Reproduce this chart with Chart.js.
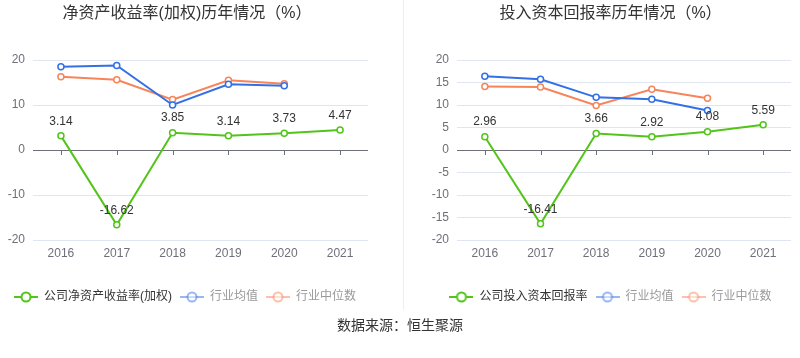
<!DOCTYPE html>
<html>
<head>
<meta charset="utf-8">
<script src="https://cdn.jsdelivr.net/npm/chart.js@4"></script>
<style>
html,body{margin:0;padding:0;background:#fff;}
body{width:800px;height:358px;position:relative;overflow:hidden;font-family:"Liberation Sans","Noto Sans CJK SC",sans-serif;}
#c1{position:absolute;left:0;top:0;}
#c2{position:absolute;left:400px;top:0;}
#divider{position:absolute;left:403px;top:0;width:1px;height:310px;background:#eeeeee;}
#source{position:absolute;left:0;width:800px;top:316px;text-align:center;font-size:14px;color:#333;line-height:18px;}
</style>
</head>
<body>
<div id="divider"></div>
<canvas id="c1" width="400" height="358"></canvas>
<canvas id="c2" width="400" height="358"></canvas>
<div id="source">数据来源：恒生聚源</div>
<script>
// ---- data ----
const years = ["2016", "2017", "2018", "2019", "2020", "2021"];

const roeTitle = "净资产收益率(加权)历年情况（%）";
const roeCompanyLabel = "公司净资产收益率(加权)";
const roeCompany = [3.14, -16.62, 3.85, 3.14, 3.73, 4.47];
const roeIndustryAvg = [18.5, 18.8, 10.0, 14.6, 14.3, null];
const roeIndustryMedian = [16.3, 15.6, 11.2, 15.5, 14.7, null];
const roeTicks = { min: -20, max: 20, step: 10 };

const roicTitle = "投入资本回报率历年情况（%）";
const roicCompanyLabel = "公司投入资本回报率";
const roicCompany = [2.96, -16.41, 3.66, 2.92, 4.08, 5.59];
const roicIndustryAvg = [16.4, 15.7, 11.7, 11.3, 8.8, null];
const roicIndustryMedian = [14.1, 14.0, 9.9, 13.5, 11.5, null];
const roicTicks = { min: -20, max: 20, step: 5 };

const avgLabel = "行业均值";
const medianLabel = "行业中位数";

// ---- styles ----
const GREEN = "#52c41a";
const BLUE = "#3370e6";
const ORANGE = "#f7845a";
const FONT = "'Liberation Sans','Noto Sans CJK SC',sans-serif";

function legendIcon(color, alpha) {
  const c = document.createElement("canvas");
  c.width = 24; c.height = 14;
  const g = c.getContext("2d");
  g.globalAlpha = alpha;
  g.strokeStyle = color;
  g.lineWidth = 2;
  g.beginPath(); g.moveTo(0, 7); g.lineTo(24, 7); g.stroke();
  g.beginPath(); g.arc(12, 7, 4.5, 0, Math.PI * 2);
  g.fillStyle = "#fff"; g.fill();
  g.stroke();
  return c;
}

const zeroTicks = {
  id: "zeroTicks",
  afterDraw(chart) {
    const x = chart.scales.x, y = chart.scales.y;
    const y0 = y.getPixelForValue(0);
    const ctx = chart.ctx;
    ctx.save();
    ctx.strokeStyle = "#6e7079";
    ctx.lineWidth = 1;
    for (let i = 0; i < x.ticks.length; i++) {
      const px = Math.round(x.getPixelForTick(i)) + 0.5;
      ctx.beginPath(); ctx.moveTo(px, y0); ctx.lineTo(px, y0 + 5); ctx.stroke();
    }
    ctx.restore();
  }
};

const valueLabels = {
  id: "valueLabels",
  afterDatasetsDraw(chart) {
    const meta = chart.getDatasetMeta(0);
    const data = chart.data.datasets[0].data;
    const ctx = chart.ctx;
    ctx.save();
    ctx.font = "12px " + FONT;
    ctx.fillStyle = "#333";
    ctx.textAlign = "center";
    ctx.textBaseline = "middle";
    meta.data.forEach((pt, i) => {
      if (data[i] == null) return;
      ctx.fillText(data[i].toFixed(2), pt.x, pt.y - 14.5);
    });
    ctx.restore();
  }
};

function makeChart(id, title, compLabel, comp, avg, med, ticks, pad, yWidth, legendAlign) {
  const icons = [legendIcon(GREEN, 1), legendIcon(BLUE, 0.5), legendIcon(ORANGE, 0.5)];
  const textColors = ["#333333", "#999999", "#999999"];
  const ds = (label, data, color) => ({
    label, data,
    borderColor: color,
    backgroundColor: "#fff",
    pointBackgroundColor: "#fff",
    pointBorderColor: color,
    pointBorderWidth: 1.5,
    pointRadius: 3,
    borderWidth: 2,
    tension: 0,
    fill: false
  });
  return new Chart(document.getElementById(id), {
    type: "line",
    data: {
      labels: years,
      datasets: [
        ds(compLabel, comp, GREEN),
        ds(avgLabel, avg, BLUE),
        ds(medianLabel, med, ORANGE)
      ]
    },
    options: {
      responsive: false,
      animation: false,
      layout: { padding: { left: pad.left, right: pad.right, top: 0, bottom: 45 } },
      plugins: {
        tooltip: { enabled: false },
        title: {
          display: true,
          text: title,
          color: "#333",
          font: { size: 16, family: FONT, weight: "normal" },
          padding: { top: 4.4, bottom: 36.4 }
        },
        legend: {
          display: true,
          position: "bottom",
          align: legendAlign,
          labels: {
            usePointStyle: true,
            pointStyleWidth: 24,
            boxHeight: 12,
            padding: 8,
            font: { size: 12, family: FONT },
            generateLabels(chart) {
              return chart.data.datasets.map((d, i) => ({
                text: d.label,
                fontColor: textColors[i],
                pointStyle: icons[i],
                hidden: false,
                datasetIndex: i,
                lineWidth: 0,
                strokeStyle: "transparent",
                fillStyle: "transparent"
              }));
            }
          }
        }
      },
      scales: {
        x: {
          type: "category",
          offset: true,
          grid: { display: false, drawTicks: false },
          border: { display: false },
          ticks: { color: "#6e7079", font: { size: 12, family: FONT }, padding: 6, maxRotation: 0 },
          afterFit(s) { s.height = 43; }
        },
        y: {
          min: ticks.min, max: ticks.max,
          grid: {
            drawTicks: false,
            color: (c) => (c.tick && c.tick.value === 0 ? "#6e7079" : "#e0e6f1"),
            lineWidth: 1
          },
          border: { display: false },
          ticks: { stepSize: ticks.step, color: "#6e7079", font: { size: 12, family: FONT }, padding: 8 },
          afterFit(s) { s.width = yWidth; }
        }
      }
    },
    plugins: [zeroTicks, valueLabels]
  });
}

makeChart("c1", roeTitle, roeCompanyLabel, roeCompany, roeIndustryAvg, roeIndustryMedian, roeTicks, { left: 6, right: 32 }, 27, "start");
makeChart("c2", roicTitle, roicCompanyLabel, roicCompany, roicIndustryAvg, roicIndustryMedian, roicTicks, { left: 30, right: 9 }, 27, "center");
</script>
</body>
</html>
